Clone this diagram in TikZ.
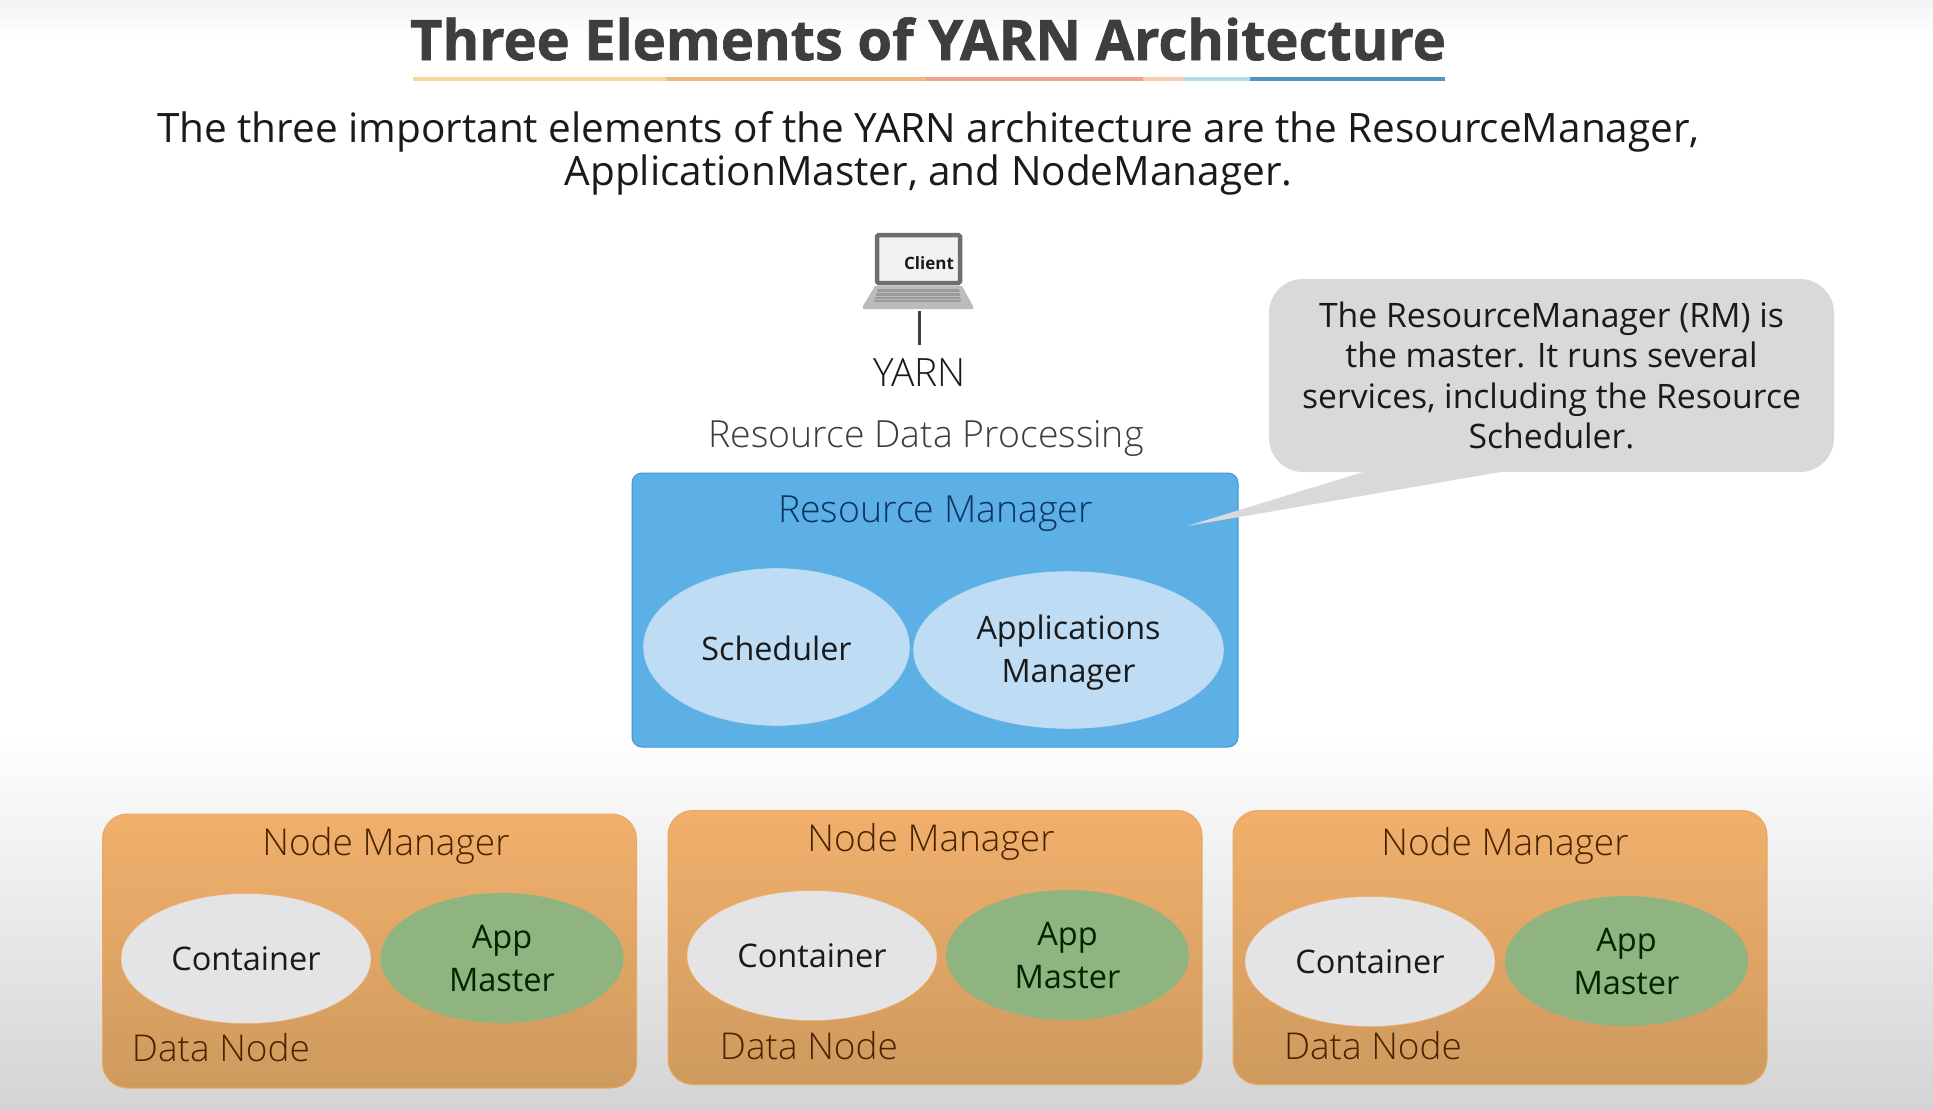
\documentclass[tikz,border=0pt]{standalone}
\usepackage{fontspec}
\usetikzlibrary{shapes.geometric}
\setmainfont{Open Sans}
\newfontfamily\lightf{Open Sans Light}
\newfontfamily\heavyf[BoldFeatures={FakeBold=1.2}]{Open Sans}
\newcommand{\fsz}[2]{\fontsize{#1}{#2}\selectfont}
\definecolor{rmblue}{HTML}{5CB0E6}
\definecolor{rmedge}{HTML}{3F97D0}
\definecolor{ovblue}{HTML}{BEDDF5}
\definecolor{orTop}{HTML}{F1B06C}
\definecolor{orBot}{HTML}{CE9A5E}
\definecolor{orEdge}{HTML}{E8A862}
\definecolor{ovgray}{HTML}{E4E4E6}
\definecolor{ovgreen}{HTML}{90B47F}
\definecolor{callgray}{HTML}{D9D9DB}
\definecolor{nmtext}{HTML}{4A2400}
\definecolor{rmtext}{HTML}{0B3560}
\definecolor{txt}{HTML}{1A1A1A}
\definecolor{titletxt}{HTML}{3E3E40}
\definecolor{lapdark}{HTML}{6E6E6E}
\definecolor{lapgray}{HTML}{BCBCBC}
\definecolor{lapkey}{HTML}{9A9A9A}
\tikzset{
  x=1pt,y=-1pt,
  nmbox/.style={draw=orEdge,line width=1pt,rounded corners=25pt,top color=orTop,bottom color=orBot,minimum width=534pt,minimum height=274pt,inner sep=0pt},
  contov/.style={ellipse,fill=ovgray,draw=orTop,line width=.5pt,minimum width=250pt,minimum height=130pt,inner sep=0pt,text=txt,font=\fsz{32.5}{43}},
  appov/.style={ellipse,fill=ovgreen,minimum width=243pt,minimum height=130pt,inner sep=0pt,text=black!85!green,align=center,font=\fsz{32.5}{43}},
  nmtitle/.style={inner sep=0pt,text=nmtext,font=\lightf\fsz{37}{37}},
  rmov/.style={ellipse,fill=ovblue,draw=rmblue,inner sep=0pt,minimum height=158pt},
  rmtxt/.style={inner sep=0pt,text=txt,align=center,font=\fsz{32.3}{43}},
  plain/.style={inner sep=0pt,align=center},
  ulseg/.style={line width=4pt}
}
\begin{document}
\begin{tikzpicture}
\useasboundingbox (0,0) rectangle (1933,1109);
% background
\fill[white] (0,0) rectangle (1933,1109);
\shade[top color=black!5,bottom color=white] (0,0) rectangle (1933,35);
\shade[top color=white,bottom color=black!17] (0,730) rectangle (1933,1109);
% title
\node[plain,text=titletxt,font=\heavyf\bfseries\fsz{56}{56}] (title) at (928,39) {Three Elements of YARN Architecture};
\draw[ulseg,color={rgb,255:red,248;green,215;blue,154}] (413,79) -- (666,79);
\draw[ulseg,color={rgb,255:red,240;green,184;blue,124}] (666,79) -- (926,79);
\draw[ulseg,color={rgb,255:red,242;green,160;blue,144}] (926,79) -- (1143,79);
\draw[ulseg,color={rgb,255:red,248;green,205;blue,176}] (1143,79) -- (1183,79);
\draw[ulseg,color={rgb,255:red,181;green,220;blue,236}] (1183,79) -- (1250,79);
\draw[ulseg,color={rgb,255:red,79;green,151;blue,188}] (1250,79) -- (1445,79);
% subtitle
\node[plain,text=txt,font=\fsz{40.5}{43}] (sub) at (928.5,153) {The three important elements of the YARN architecture are the ResourceManager,\\ApplicationMaster, and NodeManager.};
% laptop
\fill[lapgray] (875,286) -- (962,286) -- (973,306) -- (973,309) -- (863,309) -- (863,306) -- cycle;
\fill[lapkey] (878,289) -- (959,289) -- (961,302) -- (874,302) -- cycle;
\draw[lapgray,line width=.7pt] (877,292.5) -- (960,292.5) (876,296) -- (960.5,296) (875,299) -- (961,299);
\node[draw=lapdark,line width=4.5pt,fill=black!5,rounded corners=1.5pt,minimum width=83pt,minimum height=48pt,inner sep=0pt] (screen) at (918.5,259) {};
\node[plain,text=txt,font=\bfseries\fsz{17}{17}] (client) at (929,263) {Client};
\coordinate (lapfoot) at (919,311);
\coordinate (yarntop) at (919,345);
\draw[line width=3pt,color=black!75] (lapfoot) -- (yarntop);
\node[plain,text=txt,font=\lightf\fsz{39}{39}] (yarn) at (919.5,373) {YARN};
\node[plain,text=txt!85,font=\lightf\fsz{37.4}{37}] (rdp) at (926,438) {Resource Data Processing};
% resource manager
\node[draw=rmedge,line width=1pt,fill=rmblue,rounded corners=10pt,minimum width=606pt,minimum height=274pt,inner sep=0pt] (rm) at (935,610) {};
\node[plain,text=rmtext,font=\lightf\fsz{37.4}{37}] (rmtitle) at (935.5,514) {Resource Manager};
\node[rmov,minimum width=267pt] (sched) at (776.5,647) {};
\node[rmtxt] (schedt) at (776.5,648) {Scheduler};
\node[rmov,minimum width=311pt] (apps) at (1068.5,650) {};
\node[rmtxt] (appst) at (1068.5,652.5) {Applications\\Manager};
% callout
\coordinate (tailA) at (1370,470);
\coordinate (tailB) at (1512,470);
\coordinate (tailTip) at (1187,526);
\fill[callgray] (tailA) -- (tailTip) -- (tailB) -- cycle;
\node[fill=callgray,rounded corners=34pt,minimum width=565pt,minimum height=193pt,inner sep=0pt,align=center,text=txt,font=\fsz{33.7}{40.3}] (call) at (1551.5,375.5) {The ResourceManager (RM) is\\the master. It runs several\\services, including the Resource\\Scheduler.};
% node 1
\node[nmbox] (nm1) at (369.5,951) {};
\node[nmtitle] (nm1t) at (386,846) {Node Manager};
\node[contov] (c1) at (246,958.5) {Container};
\node[appov] (a1) at (502,958) {App\\Master};
\node[nmtitle] (d1) at (221,1048) {Data Node};
% node 2
\node[nmbox] (nm2) at (935,947.5) {};
\node[nmtitle] (nm2t) at (931,842) {Node Manager};
\node[contov] (c2) at (812,955.5) {Container};
\node[appov] (a2) at (1067.5,955) {App\\Master};
\node[nmtitle] (d2) at (809,1046) {Data Node};
% node 3
\node[nmbox] (nm3) at (1500,947.5) {};
\node[nmtitle] (nm3t) at (1505,846) {Node Manager};
\node[contov] (c3) at (1370,961.5) {Container};
\node[appov] (a3) at (1626.5,961) {App\\Master};
\node[nmtitle] (d3) at (1373,1046) {Data Node};
\end{tikzpicture}
\end{document}
